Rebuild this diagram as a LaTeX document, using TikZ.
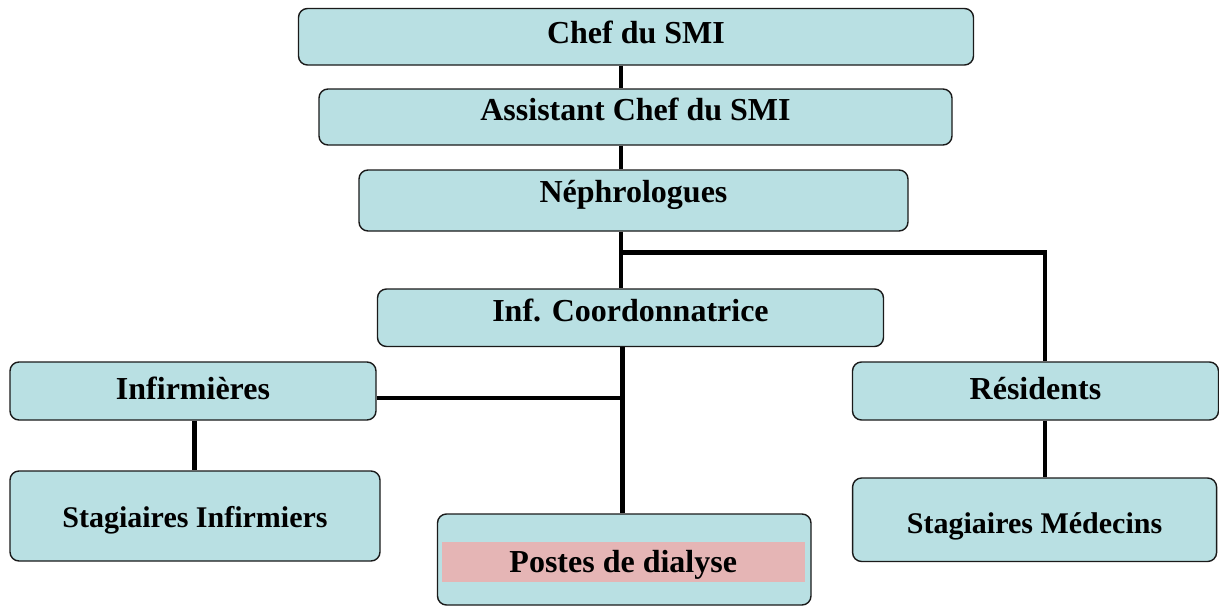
\documentclass[tikz,border=0pt]{standalone}
\usepackage{fontspec}
\setmainfont{Liberation Serif}
\definecolor{boxc}{HTML}{B9E0E3}
\definecolor{pinkc}{HTML}{E5B5B5}
\definecolor{edgec}{HTML}{1A1A1A}
\begin{document}
\begin{tikzpicture}[x=1pt,y=-1pt,
  orgbox/.style={draw=edgec, line width=1.4pt, fill=boxc, rounded corners=9pt, inner sep=0pt,
     font=\bfseries\fontsize{32}{36}\selectfont},
  smalltext/.style={font=\bfseries\fontsize{30}{34}\selectfont},
  tsh/.style 2 args={text height=#1pt, text depth=#2pt},
  link/.style={draw=black, line width=4.5pt, line cap=butt}]
\useasboundingbox (0,0) rectangle (1219,606);
\node[orgbox, minimum width=675pt, minimum height=56.5pt, tsh={26.85}{13.15}] (chef) at (636,36.75) {Chef du SMI};
\node[orgbox, minimum width=633pt, minimum height=56pt, tsh={23.6}{16.4}] (asst) at (635.5,117) {Assistant Chef du SMI};
\node[orgbox, minimum width=549pt, minimum height=61pt, tsh={22.1}{17.9}] (neph) at (633.5,200.5) {Néphrologues};
\node[orgbox, minimum width=506pt, minimum height=57.5pt, tsh={23.85}{16.15}] (coord) at (630.5,317.75) {Inf. Coordonnatrice};
\node[orgbox, minimum width=366pt, minimum height=58pt, tsh={28.6}{11.4}] (infi) at (193,391) {Infirmières};
\node[orgbox, minimum width=366pt, minimum height=58pt, tsh={28.1}{11.9}] (resi) at (1035.5,391) {Résidents};
\node[orgbox, smalltext, minimum width=370pt, minimum height=90pt, tsh={31.4}{8.6}] (stinf) at (195,516) {Stagiaires Infirmiers};
\node[orgbox, smalltext, minimum width=364pt, minimum height=83.5pt, tsh={34.15}{5.85}] (stmed) at (1034.6,519.75) {Stagiaires Médecins};
\node[orgbox, minimum width=373.5pt, minimum height=91pt] (postes) at (624.25,559.5) {};
\node[fill=pinkc, inner sep=0pt, minimum width=362.5pt, minimum height=37pt, tsh={31.1}{8.9},
      font=\bfseries\fontsize{32}{36}\selectfont] (pband) at (623.25,561.5) {Postes de dialyse};
\coordinate (sx) at (621,0);
\coordinate (cx) at (622.5,0);
\coordinate (rx) at (1045,0);
\coordinate (ix) at (194.5,0);
\coordinate (j1) at (621,252.5);
\coordinate (j2) at (622.5,398);
\draw[link] (chef.south -| sx) -- (asst.north -| sx);
\draw[link] (asst.south -| sx) -- (neph.north -| sx);
\draw[link] (neph.south -| sx) -- (coord.north -| sx);
\draw[link] (j1) -| (resi.north -| rx);
\draw[link] (coord.south -| cx) -- (postes.north -| cx);
\draw[link] (infi.east |- j2) -- (j2);
\draw[link] (infi.south -| ix) -- (stinf.north -| ix);
\draw[link, line width=3.5pt] (resi.south -| rx) -- (stmed.north -| rx);
\end{tikzpicture}
\end{document}
